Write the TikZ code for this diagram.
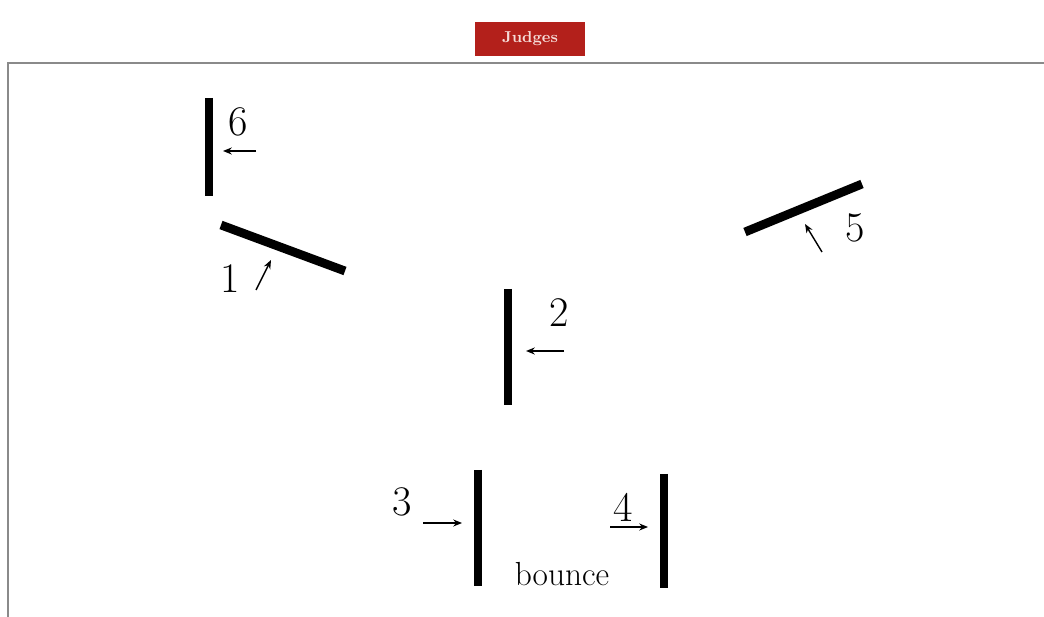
\documentclass[tikz,border=0pt]{standalone}
\usepackage{tikz}
\usetikzlibrary{arrows.meta,positioning}
\definecolor{judgered}{HTML}{B3201B}
\definecolor{judgetext}{HTML}{F6DCD8}
\definecolor{framegray}{HTML}{8A8A8A}

\begin{document}
\begin{tikzpicture}[x=0.02cm,y=-0.02cm,
    font=\fontsize{24}{28}\selectfont,
    wall/.style={line width=5pt},
    hit/.style={line width=0.8pt,-{Stealth[length=5pt,width=4pt]}}]
    \useasboundingbox (0,0) rectangle (1044,617);
    % judges banner and court outline
    \node[fill=judgered,text=judgetext,minimum width=2.2cm,minimum height=0.68cm,
      font=\small\bfseries] (judges) at (530,39) {Judges};
    \draw[framegray,line width=1.1pt] (8,618) -- (8,63) -- (1045,63);
    % walls
    \draw[wall] (209,98) -- (209,196);
    \draw[wall] (221,225) -- (345,271);
    \draw[wall] (745,232) -- (862,184);
    \draw[wall] (508,289) -- (508,405);
    \draw[wall] (478,470) -- (478,586);
    \draw[wall] (664,474) -- (664,588);
    % numbers
    \node (n6) at (238,122) {6};
    \node (n1) at (230,279) {1};
    \node (n5) at (855,228) {5};
    \node (n2) at (559,313) {2};
    \node (n3) at (402,502) {3};
    \node (n4) at (623,507) {4};
    \node[font=\fontsize{19}{22}\selectfont] (bounce) at (562,574) {bounce};
    % approach arrows
    \coordinate (a6) at (256,151); \coordinate (b6) at (223,151);
    \coordinate (a1) at (256,290); \coordinate (b1) at (271,260);
    \coordinate (a5) at (822,252); \coordinate (b5) at (805,224);
    \coordinate (a2) at (564,351); \coordinate (b2) at (526,351);
    \coordinate (a3) at (423,523); \coordinate (b3) at (462,523);
    \coordinate (a4) at (610,527); \coordinate (b4) at (648,527);
    \foreach \k in {6,1,5,2,3,4}
      \draw[hit] (a\k) -- (b\k);
  \end{tikzpicture}
\end{document}
